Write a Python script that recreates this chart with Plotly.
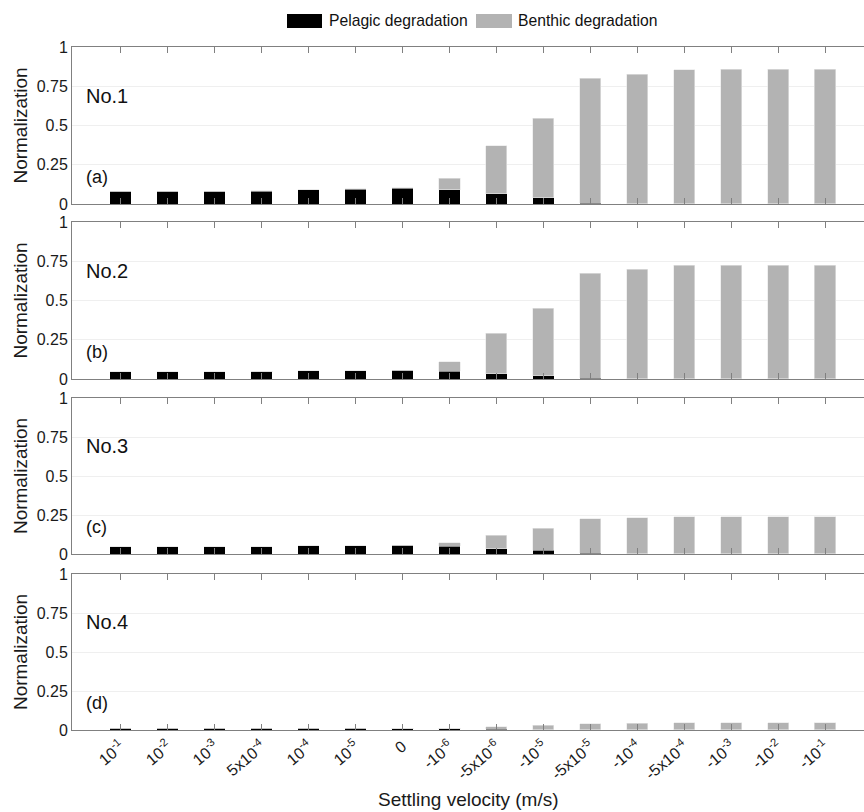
import plotly.graph_objects as go

W, H = 864, 812

categories = ["10<sup>-1</sup>", "10<sup>-2</sup>", "10<sup>-3</sup>", "5x10<sup>-4</sup>",
              "10<sup>-4</sup>", "10<sup>-5</sup>", "0", "-10<sup>-6</sup>",
              "-5x10<sup>-6</sup>", "-10<sup>-5</sup>", "-5x10<sup>-5</sup>", "-10<sup>-4</sup>",
              "-5x10<sup>-4</sup>", "-10<sup>-3</sup>", "-10<sup>-2</sup>", "-10<sup>-1</sup>"]

# pelagic degradation (black) and total (pelagic + benthic) per panel
pelagic_1 = [0.080, 0.080, 0.080, 0.082, 0.090, 0.095, 0.100, 0.090, 0.065, 0.040, 0.005, 0.002, 0.001, 0.001, 0.001, 0.001]
total_1   = [0.082, 0.082, 0.082, 0.084, 0.092, 0.097, 0.102, 0.165, 0.370, 0.545, 0.800, 0.825, 0.855, 0.857, 0.857, 0.857]
pelagic_2 = [0.045, 0.045, 0.045, 0.047, 0.052, 0.053, 0.055, 0.050, 0.035, 0.020, 0.005, 0.002, 0.001, 0.001, 0.001, 0.001]
total_2   = [0.046, 0.046, 0.046, 0.048, 0.053, 0.054, 0.057, 0.110, 0.292, 0.450, 0.675, 0.700, 0.725, 0.725, 0.725, 0.725]
pelagic_3 = [0.045, 0.045, 0.045, 0.047, 0.052, 0.053, 0.055, 0.050, 0.035, 0.025, 0.005, 0.002, 0.001, 0.001, 0.001, 0.001]
total_3   = [0.046, 0.046, 0.046, 0.048, 0.053, 0.054, 0.057, 0.072, 0.120, 0.165, 0.225, 0.232, 0.240, 0.240, 0.240, 0.240]
pelagic_4 = [0.007, 0.007, 0.007, 0.007, 0.008, 0.008, 0.008, 0.008, 0.006, 0.003, 0.001, 0.001, 0.001, 0.001, 0.001, 0.001]
total_4   = [0.008, 0.008, 0.008, 0.008, 0.009, 0.009, 0.010, 0.012, 0.020, 0.030, 0.040, 0.042, 0.045, 0.045, 0.045, 0.045]

panel_names = ["No.1", "No.2", "No.3", "No.4"]
panel_tags = ["(a)", "(b)", "(c)", "(d)"]
legend_names = ["Pelagic degradation", "Benthic degradation"]
pelagic = [pelagic_1, pelagic_2, pelagic_3, pelagic_4]
totals = [total_1, total_2, total_3, total_4]

y_ticks = [0, 0.25, 0.5, 0.75, 1]
y_ticktext = ["0", "0.25", "0.5", "0.75", "1"]

FONT = "Liberation Sans, Arial, sans-serif"
BLACK = "#000000"
GRAY = "#b3b3b3"
AXIS = "#808080"
TXT = "#1a1a1a"

# pixel layout of panels (top, bottom)
m_l, m_r, m_t, m_b = 72, 0, 47, 82
panel_px = [(47, 204), (222, 379), (398, 554), (574, 730)]
ph = H - m_t - m_b
pw = W - m_l - m_r

def py2paper(py):
    return (H - m_b - py) / ph

def px2paper(px):
    return (px - m_l) / pw

fig = go.Figure()
layout = dict()
for i in range(4):
    xa = "x" if i == 0 else f"x{i+1}"
    ya = "y" if i == 0 else f"y{i+1}"
    benthic = [t - p for t, p in zip(totals[i], pelagic[i])]
    fig.add_trace(go.Bar(x=categories, y=pelagic[i], name=legend_names[0],
                         marker=dict(color=BLACK, line=dict(width=0)),
                         width=0.45, xaxis=xa, yaxis=ya, showlegend=False))
    fig.add_trace(go.Bar(x=categories, y=benthic, name=legend_names[1],
                         marker=dict(color=GRAY, line=dict(color="#e6e6e6", width=0.6)),
                         width=0.45, xaxis=xa, yaxis=ya, showlegend=False))
    top, bot = panel_px[i]
    xkey = "xaxis" if i == 0 else f"xaxis{i+1}"
    ykey = "yaxis" if i == 0 else f"yaxis{i+1}"
    layout[xkey] = dict(
        domain=[0, 1], anchor=ya, type="category",
        categoryorder="array", categoryarray=categories,
        range=[-1.04, 15.83],
        showline=True, linecolor=AXIS, linewidth=1, mirror="ticks",
        ticks="inside", ticklen=6, tickcolor=AXIS, tickwidth=1,
        showgrid=False, zeroline=False,
        showticklabels=(i == 3), tickangle=-40,
        tickfont=dict(family=FONT, size=16, color=TXT),
    )
    if i < 3:
        layout[xkey]["matches"] = "x4"
    layout[ykey] = dict(
        domain=[py2paper(bot), py2paper(top)], anchor=xa,
        range=[0, 1], tickvals=y_ticks, ticktext=y_ticktext,
        showline=True, linecolor=AXIS, linewidth=1, mirror=False,
        ticks="", showgrid=True, gridcolor="#efefef", gridwidth=1,
        zeroline=False,
        tickfont=dict(family=FONT, size=16, color=TXT),
        title=dict(text="Normalization", font=dict(family=FONT, size=19, color=TXT),
                   standoff=4),
    )

annotations = []
for i in range(4):
    xa = "x" if i == 0 else f"x{i+1}"
    ya = "y" if i == 0 else f"y{i+1}"
    annotations.append(dict(text=panel_names[i], xref=f"{xa} domain", yref=ya,
                            x=0.015, y=0.69, xanchor="left", yanchor="middle",
                            showarrow=False, font=dict(family=FONT, size=20, color="#111")))
    annotations.append(dict(text=panel_tags[i], xref=f"{xa} domain", yref=ya,
                            x=0.015, y=0.17, xanchor="left", yanchor="middle",
                            showarrow=False, font=dict(family=FONT, size=18, color="#111")))

annotations.append(dict(text="Settling velocity (m/s)", xref="paper", yref="paper",
                        x=0.5, y=py2paper(799), xanchor="center", yanchor="middle",
                        showarrow=False, font=dict(family=FONT, size=19, color=TXT)))

# manual legend (swatches + labels)
shapes = []
legend_items = [(287, 322, 327, BLACK), (476, 512, 516, GRAY)]
for (sx0, sx1, tx, col), name in zip(legend_items, legend_names):
    shapes.append(dict(type="rect", xref="paper", yref="paper",
                       x0=px2paper(sx0), x1=px2paper(sx1),
                       y0=py2paper(28), y1=py2paper(14),
                       fillcolor=col, line=dict(width=0)))
    annotations.append(dict(text=name, xref="paper", yref="paper",
                            x=px2paper(tx), y=py2paper(21), xanchor="left", yanchor="middle",
                            showarrow=False, font=dict(family=FONT, size=15.7, color="#111")))

fig.update_layout(
    width=W, height=H,
    margin=dict(l=m_l, r=m_r, t=m_t, b=m_b),
    paper_bgcolor="white", plot_bgcolor="white",
    barmode="stack",
    font=dict(family=FONT, color=TXT),
    showlegend=False,
    annotations=annotations,
    shapes=shapes,
    **layout,
)

fig.write_html("out.html")
